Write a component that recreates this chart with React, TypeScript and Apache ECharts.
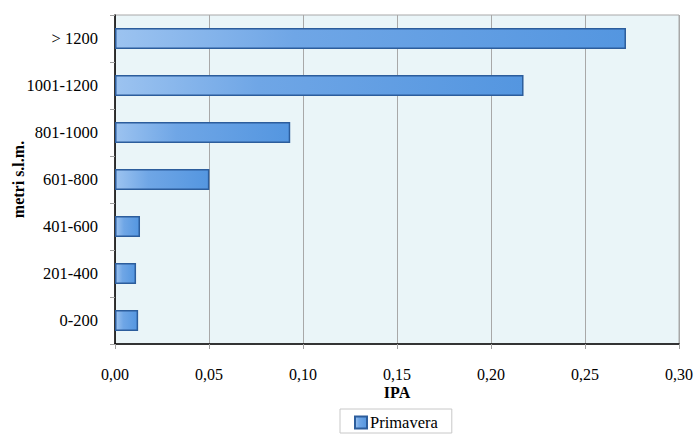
import React, { useEffect, useRef } from "react";
import * as echarts from "echarts";

const categories = ["0-200", "201-400", "401-600", "601-800", "801-1000", "1001-1200", "> 1200"];
const primavera = [0.0123, 0.0112, 0.0133, 0.0502, 0.0932, 0.2173, 0.2718];
const xTicks = { min: 0, max: 0.3, interval: 0.05 };
const seriesName = "Primavera";

export default function App() {
  const ref = useRef<HTMLDivElement>(null);
  useEffect(() => {
    if (!ref.current) return;
    const chart = echarts.init(ref.current, null, { renderer: "svg" });
    const font = "Liberation Serif";
    chart.setOption({
      animation: false,
      textStyle: { fontFamily: font, color: "#000" },
      grid: {
        left: 115,
        right: 15,
        top: 15,
        bottom: 90,
        outerBoundsMode: "none",
        containLabel: false,
        show: true,
        backgroundColor: "#EAF5F8",
        borderColor: "#A8A8A8",
        borderWidth: 1,
      },
      legend: {
        data: [seriesName],
        top: 409,
        left: 340,
        icon: "rect",
        itemWidth: 12,
        itemHeight: 12,
        itemGap: 4,
        borderColor: "#C8C8C8",
        borderWidth: 1,
        padding: [5, 14, 2, 14],
        textStyle: { fontFamily: font, fontSize: 16.5, color: "#000", padding: [0, 0, 0, -2] },
      },
      xAxis: {
        type: "value",
        min: xTicks.min,
        max: xTicks.max,
        interval: xTicks.interval,
        name: "IPA",
        nameLocation: "middle",
        nameGap: 40,
        nameMoveOverlap: false,
        nameTextStyle: { fontFamily: font, fontSize: 16, fontWeight: "bold", color: "#000" },
        axisLine: { show: true, lineStyle: { color: "#000", width: 1.5 } },
        axisTick: { show: true, length: 5, lineStyle: { color: "#A0A0A0" } },
        axisLabel: {
          fontFamily: font,
          fontSize: 16,
          color: "#000",
          margin: 22,
          hideOverlap: false,
          formatter: (v: number) => v.toFixed(2).replace(".", ","),
        },
        splitLine: { show: true, lineStyle: { color: "#A8A8A8", width: 1 } },
      },
      yAxis: {
        type: "category",
        data: categories,
        name: "metri s.l.m.",
        nameLocation: "middle",
        nameGap: 89,
        nameMoveOverlap: false,
        nameRotate: 90,
        nameTextStyle: { fontFamily: font, fontSize: 16, fontWeight: "bold", color: "#000" },
        axisLine: { show: true, lineStyle: { color: "#000", width: 1.5 } },
        axisTick: { show: true, length: 5, lineStyle: { color: "#A0A0A0" } },
        axisLabel: { fontFamily: font, fontSize: 16.5, color: "#000", margin: 17 },
        splitLine: { show: false },
      },
      series: [
        {
          name: seriesName,
          type: "bar",
          data: primavera,
          barWidth: 21,
          itemStyle: {
            color: new echarts.graphic.LinearGradient(0, 0, 1, 0, [
              { offset: 0, color: "#9CC3F0" },
              { offset: 0.35, color: "#6FA6E6" },
              { offset: 1, color: "#5496E0" },
            ]),
            borderColor: "#2C5D9C",
            borderWidth: 1.5,
          },
        },
      ],
    });
    return () => chart.dispose();
  }, []);
  return (
    <div
      ref={ref}
      style={{ position: "fixed", left: 0, top: 0, width: 694, height: 434, background: "#fff" }}
    />
  );
}
